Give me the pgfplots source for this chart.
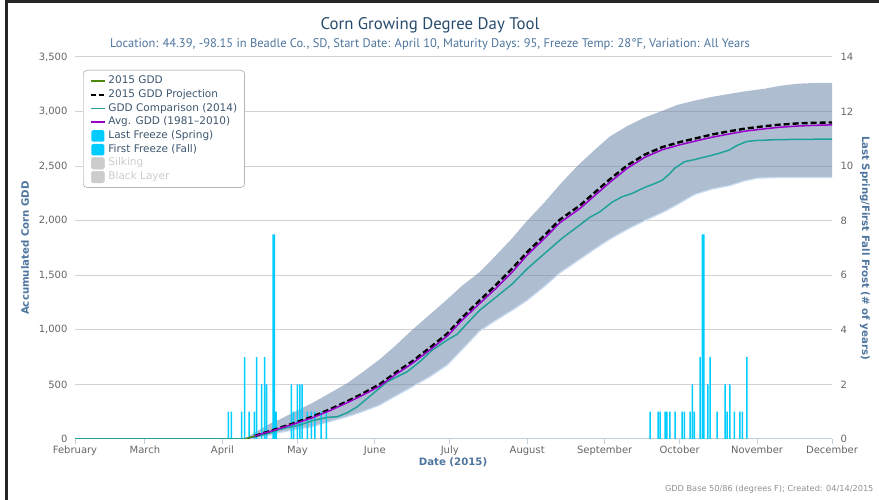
\documentclass[border=0pt]{standalone}
\usepackage{fontspec}
\setmainfont{DejaVu Sans}
\newfontfamily\ptsans{PT Sans}
\usepackage{pgfplots}
\usepackage{pgfplotstable}
\pgfplotsset{compat=1.18}
\usepgfplotslibrary{fillbetween}
\definecolor{titlec}{HTML}{274B6D}
\definecolor{subc}{HTML}{4D759E}
\definecolor{tickc}{HTML}{666666}
\definecolor{axisc}{HTML}{C0D0E0}
\definecolor{gridc}{HTML}{D2D2D2}
\definecolor{bandc}{RGB}{110,135,170}
\definecolor{bandedge}{HTML}{C8DCF2}
\definecolor{barc}{HTML}{00CCFF}
\definecolor{purp}{HTML}{9900CC}
\definecolor{tealc}{HTML}{20A29A}
\definecolor{greenc}{HTML}{4F8A10}
\definecolor{credc}{HTML}{909090}
\definecolor{hidc}{HTML}{CCCCCC}
\definecolor{legc}{HTML}{3E576F}

% day of year, GDD
\pgfplotstableread{
d v
100 0
104 60
110 140
114 180
120 250
127 330
134 420
141 512
147 610
154 730
160 850
167 1000
174 1140
181 1280
187 1405
194 1530
200 1670
207 1840
213 2000
220 2170
226 2330
233 2500
240 2649
246 2770
253 2867
260 2945
267 3006
273 3060
280 3100
287 3135
294 3162
300 3185
308 3209
314 3235
321 3255
328 3262
335 3263
}\upperband
\pgfplotstableread{
d v
100 0
104 10
110 35
114 60
120 85
127 113
134 160
141 204
147 250
154 311
160 390
167 479
174 570
181 678
187 820
194 990
200 1080
207 1180
213 1270
220 1400
226 1520
233 1630
240 1740
246 1830
253 1920
260 2000
268 2085
274 2160
280 2240
287 2290
294 2321
300 2365
305 2390
313 2395
335 2395
}\lowerband
\pgfplotstableread{
d v
100 0
104 25
107 50
110 68
114 98
120 140
127 195
134 260
141 333
147 400
154 485
160 585
167 693
174 815
181 943
187 1090
194 1242
200 1370
207 1530
213 1685
220 1840
226 1980
234 2110
240 2230
246 2350
253 2480
260 2580
267 2650
274 2695
280 2728
287 2765
294 2795
300 2820
308 2842
314 2856
321 2867
328 2874
335 2878
}\avggdd
\pgfplotstableread{
d v
104 28
107 52
110 72
114 103
120 148
127 205
134 272
141 346
147 415
154 502
160 603
167 712
174 836
181 966
187 1114
194 1270
200 1400
207 1562
213 1712
220 1868
226 2008
234 2138
240 2258
246 2378
253 2506
260 2605
267 2674
274 2720
280 2752
287 2790
294 2820
300 2843
308 2866
314 2880
321 2891
328 2897
335 2900
}\projgdd
\pgfplotstableread{
d v
100 0
101 6
102 13
103 20
104 28
}\gddfifteen
\pgfplotstableread{
d v
32 0
100 0
104 20
110 55
114 89
118 110
122 128
127 168
133 198
137 204
141 241
145 296
149 372
153 449
157 525
161 571
165 617
170 708
175 815
181 907
185 960
189 1060
194 1180
200 1290
207 1420
213 1560
220 1700
227 1840
234 1960
238 2030
242 2080
247 2170
251 2220
255 2250
260 2305
264 2340
267 2370
270 2430
272 2480
276 2541
280 2560
283 2578
287 2600
290 2619
294 2649
297 2690
301 2727
305 2735
313 2743
335 2748
}\comp
\pgfplotstableread{
d n
93.4 1
94.6 1
98.7 1
99.9 3
101.7 1
103.8 1
104.7 3
106.7 2
107.9 3
108.7 2
111.3 7.5
111.8 7.5
112.5 1
118.6 2
119.5 1
121.0 2
122.0 2
122.9 2
125.0 1
126.6 1
128.0 1
130.5 1
132.6 1
}\spring
\pgfplotstableread{
d n
262.2 1
265.4 1
266.2 1
268.2 1
268.9 1
270.1 1
272.2 1
275.0 1
275.9 1
278.2 1
279.1 2
279.9 1
282.2 3
283.1 7.5
283.7 7.5
285.3 2
286.2 3
289.0 1
292.2 2
293.0 1
294.1 2
295.9 1
298.1 1
299.1 1
300.9 3
}\fall

\pgfplotsset{
  base/.style={scale only axis, width=757pt, height=382pt,
    at={(75pt,61pt)}, anchor=south west, xmin=32, xmax=335,
    /pgf/number format/assume math mode=true,
    ticklabel style={font=\fontsize{10}{12}\selectfont, text=tickc}},
}

\begin{document}
\begin{tikzpicture}
\path (0pt,0pt) rectangle (879pt,500pt);
\fill[black!85] (5pt,497pt) rectangle (879pt,500pt);
\fill[black!85] (5pt,0pt) rectangle (8pt,500pt);

% axis 1: grid, band, x axis, left ticks
\begin{axis}[base, ymin=0, ymax=3500,
  axis x line*=bottom, axis y line*=left,
  x axis line style={draw=axisc, line width=1pt, -},
  y axis line style={draw=none},
  xtick={32,60,91,121,152,182,213,244,274,305,335},
  xticklabels={February,March,April,May,June,July,August,September,October,November,December},
  xtick style={draw=axisc, line width=1pt},
  tick align=outside, major tick length=5pt,
  ytick={0,500,...,3500}, ytick style={draw=none},
  yticklabel style={/pgf/number format/1000 sep={,}, xshift=1pt},
  xticklabel style={yshift=1.5pt},
  ymajorgrids, grid style={draw=gridc, line width=1pt},
]
\addplot[name path=up, draw=none, forget plot] table[x=d,y=v]{\upperband};
\addplot[name path=lo, draw=none, forget plot] table[x=d,y=v]{\lowerband};
\addplot[fill=bandc, fill opacity=0.55, draw=none, forget plot] fill between[of=up and lo];
\addplot[draw=bandedge, line width=1.2pt, forget plot] table[x=d,y=v]{\lowerband};
\end{axis}

% axis 2: freeze bars, right axis, legend
\begin{axis}[base, ymin=0, ymax=14,
  axis x line=none, axis y line*=right,
  y axis line style={draw=none},
  ytick={0,2,...,14}, ytick style={draw=none},
  yticklabel style={xshift=5pt},
  legend style={at={(axis description cs:0.0106,0.966)}, anchor=north west,
    draw=credc, rounded corners=4pt, fill=white, inner xsep=6.5pt, inner ysep=4.5pt,
    font=\fontsize{10.5}{12}\selectfont, text=legc,
    nodes={inner sep=1pt, text height=8pt, text depth=2.5pt},
    row sep=1.2pt, column sep=1.5pt},
  legend cell align=left,
]
\addlegendimage{legend image code/.code={\draw[greenc,line width=1.5pt](0pt,0pt)--(14pt,0pt);}}
\addlegendentry{2015 GDD}
\addlegendimage{legend image code/.code={\draw[black,line width=2.2pt,dash pattern=on 5pt off 3pt](0pt,0pt)--(14pt,0pt);}}
\addlegendentry{2015 GDD Projection}
\addlegendimage{legend image code/.code={\draw[tealc,line width=1.5pt](0pt,0pt)--(14pt,0pt);}}
\addlegendentry{GDD Comparison (2014)}
\addlegendimage{legend image code/.code={\draw[purp,line width=1.5pt](0pt,0pt)--(14pt,0pt);}}
\addlegendentry{Avg. GDD (1981--2010)}
\addplot[ybar, bar width=0.6, bar shift=0pt, fill=barc, draw=none,
  legend image code/.code={\fill[barc,rounded corners=1.5pt](0.5pt,-6pt) rectangle (13.5pt,5.5pt);}]
  table[x=d,y=n]{\spring};
\addlegendentry{Last Freeze (Spring)}
\addplot[ybar, bar width=0.6, bar shift=0pt, fill=barc, draw=none,
  legend image code/.code={\fill[barc,rounded corners=1.5pt](0.5pt,-6pt) rectangle (13.5pt,5.5pt);}]
  table[x=d,y=n]{\fall};
\addlegendentry{First Freeze (Fall)}
\addlegendimage{legend image code/.code={\fill[hidc,rounded corners=1.5pt](0.5pt,-6pt) rectangle (13.5pt,5.5pt);}}
\addlegendentry{\textcolor{hidc}{Silking}}
\addlegendimage{legend image code/.code={\fill[hidc,rounded corners=1.5pt](0.5pt,-6pt) rectangle (13.5pt,5.5pt);}}
\addlegendentry{\textcolor{hidc}{Black Layer}}
\end{axis}

% axis 3: GDD lines
\begin{axis}[base, ymin=0, ymax=3500, hide axis]
\addplot[tealc, line width=1.5pt] table[x=d,y=v]{\comp};
\addplot[black, line width=2.4pt, dash pattern=on 6pt off 3pt] table[x=d,y=v]{\projgdd};
\addplot[purp, line width=1.5pt] table[x=d,y=v]{\avggdd};
\addplot[greenc, line width=1.5pt] table[x=d,y=v]{\gddfifteen};
\end{axis}

\node[text=titlec, font=\ptsans\fontsize{16.8}{19}\selectfont] at (430pt,475pt) {Corn Growing Degree Day Tool};
\node[text=subc, font=\ptsans\fontsize{12.5}{14}\selectfont] at (430pt,456pt) {Location: 44.39, -98.15 in Beadle Co., SD, Start Date: April 10, Maturity Days: 95, Freeze Temp: 28°F, Variation: All Years};
\node[text=subc, font=\bfseries\fontsize{10.2}{12}\selectfont] at (453pt,38pt) {Date (2015)};
\node[text=subc, font=\bfseries\fontsize{10.2}{12}\selectfont, rotate=90] at (25pt,252pt) {Accumulated Corn GDD};
\node[text=subc, font=\bfseries\fontsize{10.2}{12}\selectfont, rotate=-90] at (865pt,252pt) {Last Spring/First Fall Frost (\# of years)};
\node[anchor=east, text=credc, font=\fontsize{8.2}{10}\selectfont] at (877pt,11pt) {GDD Base 50/86 (degrees F); Created: 04/14/2015};
\end{tikzpicture}
\end{document}
